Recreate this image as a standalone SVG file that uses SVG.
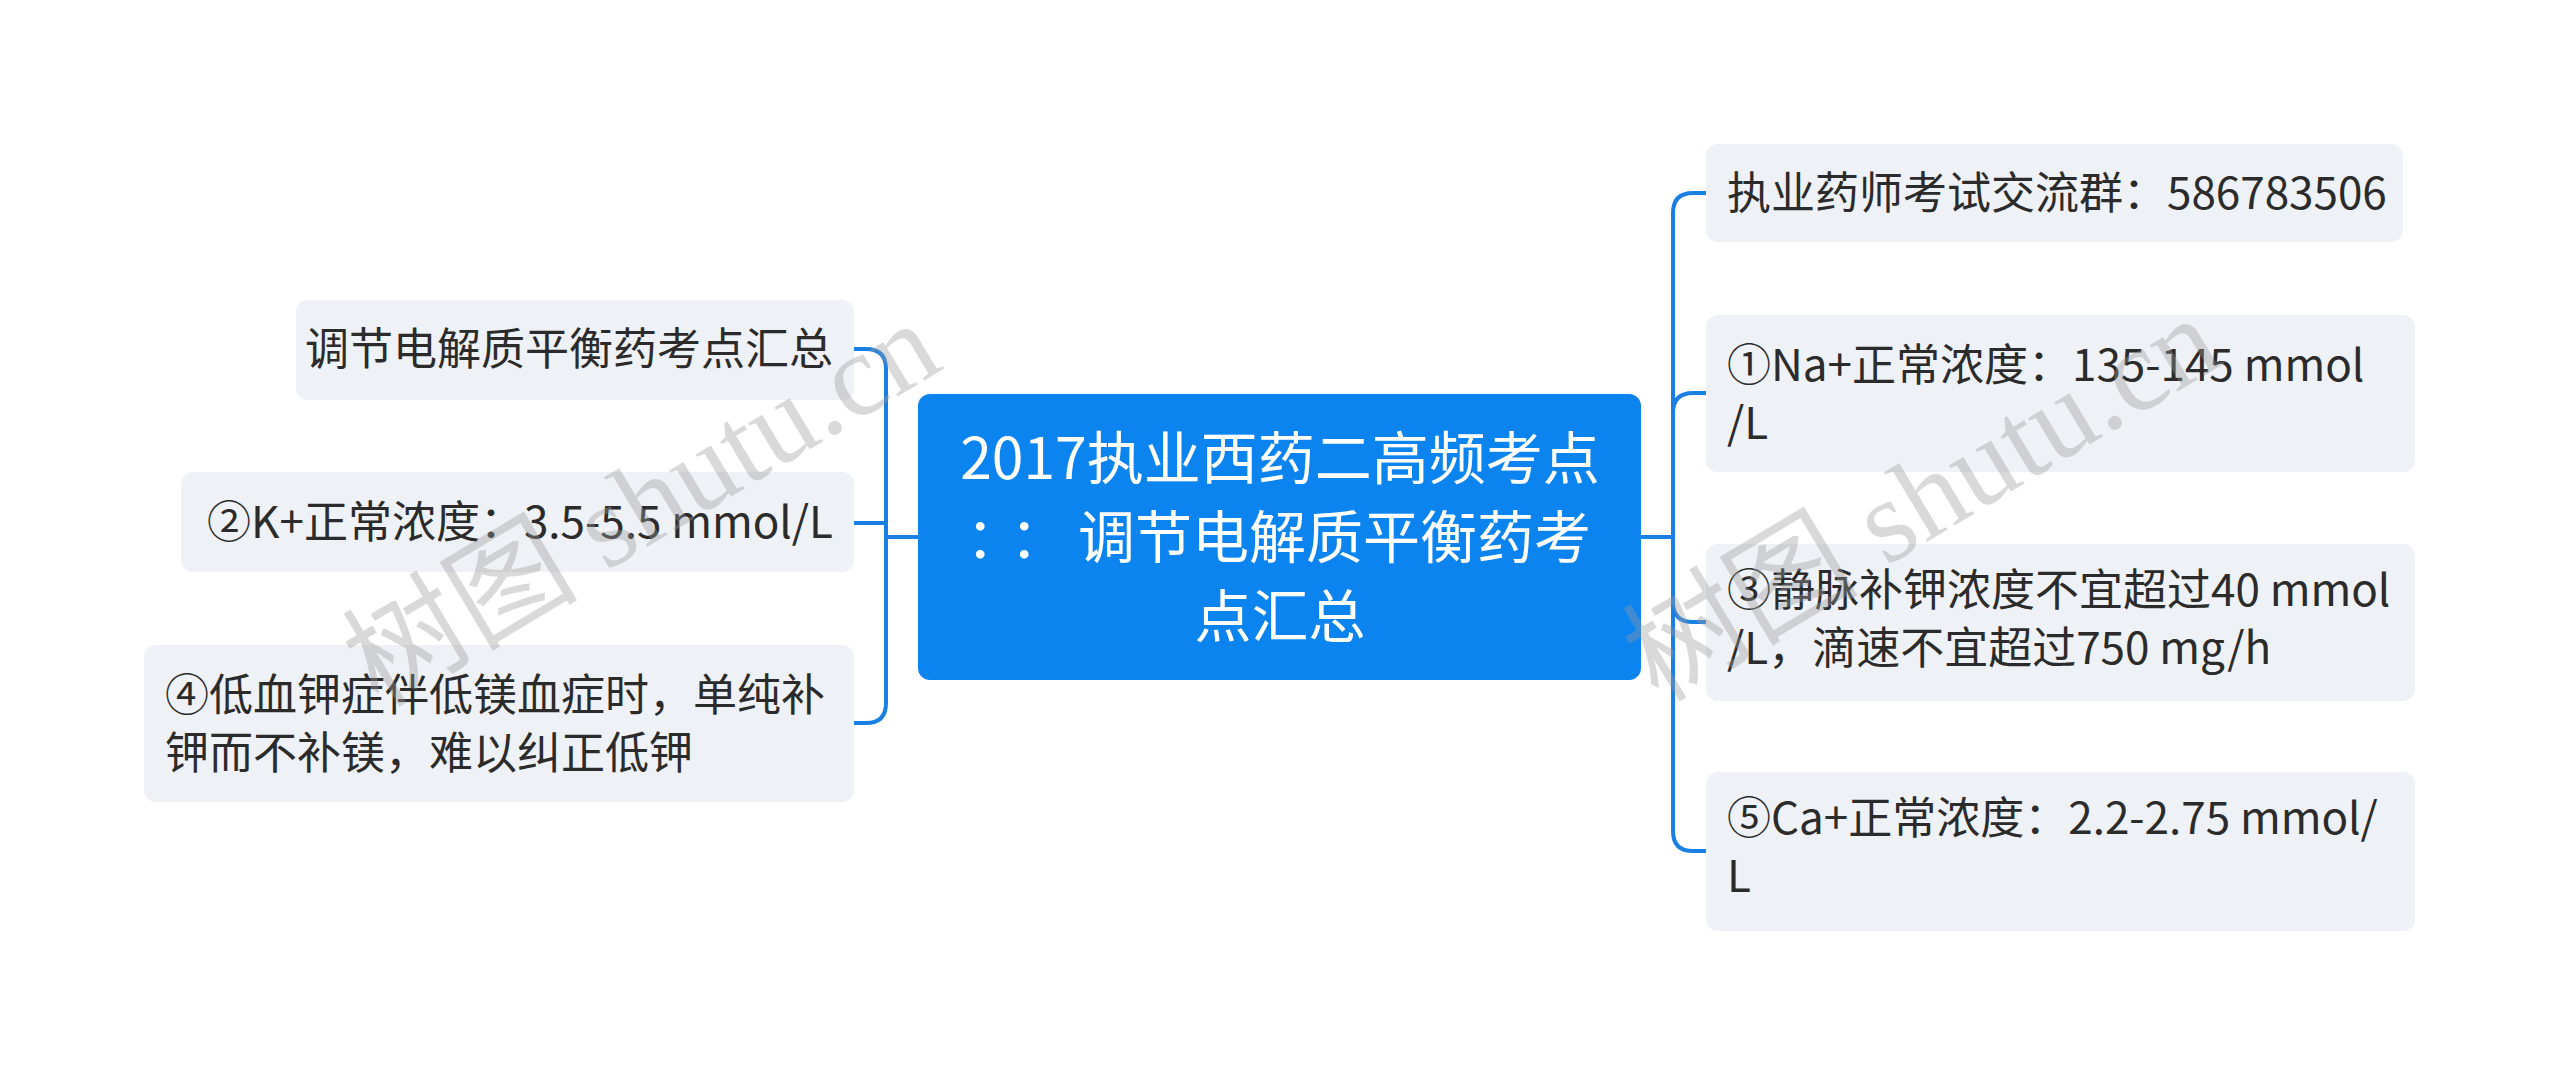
<svg xmlns="http://www.w3.org/2000/svg" width="2560" height="1075" viewBox="0 0 2560 1075">
<style>
.leaf rect{fill:#EEF1F5;}
.leaf text{font-family:"Noto Sans CJK SC","Noto Sans",sans-serif;font-size:44px;fill:#2b2b2b;}
.root text{font-family:"Noto Sans CJK SC","Noto Sans",sans-serif;font-size:57px;fill:#ffffff;text-anchor:middle;}
.conn path{fill:none;stroke:#1A7FE3;stroke-width:4;}
.wm{font-family:"Liberation Serif","Noto Sans CJK SC",serif;font-size:118px;fill:#9a9a9a;fill-opacity:0.38;text-anchor:middle;}
</style>
<rect width="2560" height="1075" fill="#ffffff"/>
<g id="connectors" class="conn">
<path d="M918,537 H886"/>
<path d="M886,537 V369 Q886,349 866,349 H854"/>
<path d="M886,523 H854"/>
<path d="M886,537 V703 Q886,723 866,723 H854"/>
<path d="M1641,537 H1673"/>
<path d="M1673,537 V213 Q1673,193 1693,193 H1706"/>
<path d="M1673,537 V413 Q1673,393 1693,393 H1706"/>
<path d="M1673,537 V602 Q1673,622 1693,622 H1706"/>
<path d="M1673,537 V831 Q1673,851 1693,851 H1706"/>
</g>
<g id="root" class="root">
<rect x="918" y="394" width="723" height="286" rx="12" fill="#0B84F0"/>
<text x="1280" y="479">2017执业西药二高频考点</text>
<text y="558"><tspan x="966" text-anchor="start">：</tspan><tspan x="1010" text-anchor="start">：</tspan><tspan x="1078" text-anchor="start">调节电解质平衡药考</tspan></text>
<text x="1280" y="637">点汇总</text>
</g>
<g id="L1" class="leaf">
<rect x="296" y="300" width="558" height="100" rx="12"/>
<text x="833" y="365" text-anchor="end">调节电解质平衡药考点汇总</text>
</g>
<g id="L2" class="leaf">
<rect x="181" y="472" width="673" height="100" rx="12"/>
<text x="833" y="538" text-anchor="end">②K+正常浓度：3.5-5.5 mmol/L</text>
</g>
<g id="L3" class="leaf">
<rect x="144" y="645" width="710" height="157" rx="12"/>
<text x="165" y="711">④低血钾症伴低镁血症时，单纯补</text>
<text x="165" y="769">钾而不补镁，难以纠正低钾</text>
</g>
<g id="R1" class="leaf">
<rect x="1706" y="144" width="697" height="98" rx="12"/>
<text x="1727" y="209">执业药师考试交流群：586783506</text>
</g>
<g id="R2" class="leaf">
<rect x="1706" y="315" width="709" height="157" rx="12"/>
<text x="1727" y="381">①Na+正常浓度：135-145 mmol</text>
<text x="1727" y="439">/L</text>
</g>
<g id="R3" class="leaf">
<rect x="1706" y="544" width="709" height="157" rx="12"/>
<text x="1727" y="606">③静脉补钾浓度不宜超过40 mmol</text>
<text x="1727" y="664">/L，滴速不宜超过750 mg/h</text>
</g>
<g id="R4" class="leaf">
<rect x="1706" y="772" width="709" height="159" rx="12"/>
<text x="1727" y="834">⑤Ca+正常浓度：2.2-2.75 mmol/</text>
<text x="1727" y="892">L</text>
</g>
<g id="watermark">
<text class="wm" transform="translate(662,538) rotate(-31)">树图 shutu.cn</text>
<text class="wm" transform="translate(1942,533) rotate(-31)">树图 shutu.cn</text>
</g>
</svg>
